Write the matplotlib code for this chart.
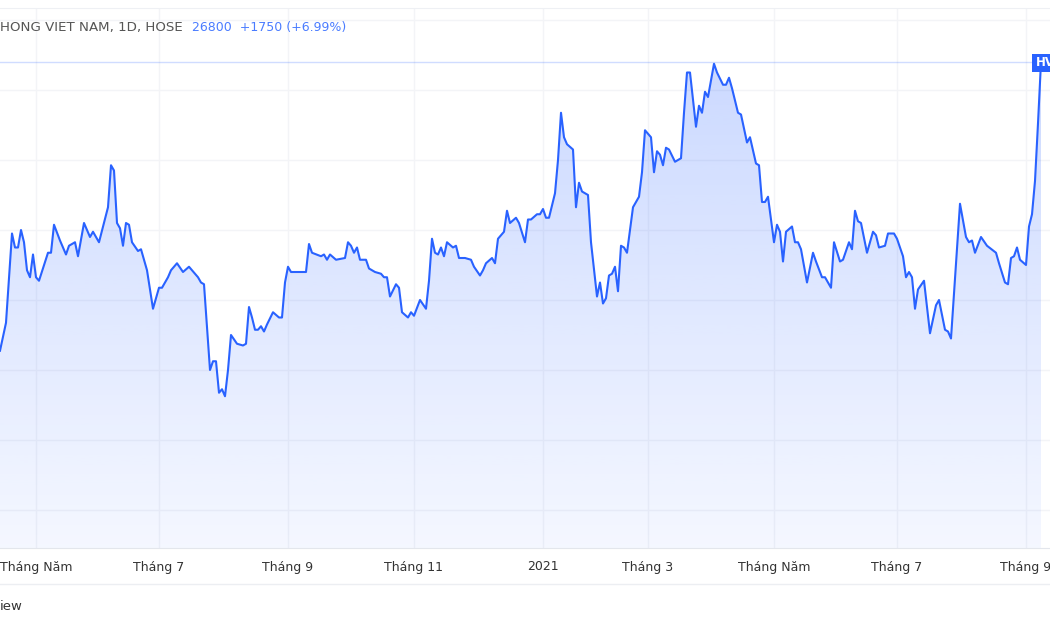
import numpy as np
import matplotlib
matplotlib.use('Agg')
import matplotlib.pyplot as plt
from matplotlib.patches import Rectangle

# HVN daily close (x = trading-session index)
sessions = [
    0, 2, 4, 5, 6, 7, 8, 9, 10, 11, 12, 13, 16, 17, 18, 20, 22, 23, 25, 26,
    28, 30, 31, 33, 36, 37, 38, 39, 40, 41, 42, 43, 44, 46, 47, 49, 51, 53, 54, 55,
    56, 57, 59, 61, 63, 66, 67, 68, 70, 71, 72, 73, 74, 75, 76, 77, 79, 81, 82, 83,
    84, 85, 86, 87, 88, 89, 91, 93, 94, 95, 96, 97, 102, 103, 104, 107, 108, 109, 110, 112,
    115, 116,
    117, 118, 119, 120, 122, 123, 125, 127, 128, 129, 130, 132, 133, 134, 136, 137, 138, 140,
    142, 143, 144, 145, 146, 147, 148, 149, 151, 152, 153, 155, 157, 158, 160, 161, 162, 164,
    165, 166, 168, 169, 170, 172, 173, 175, 176, 177, 179, 180, 181, 182, 183, 185, 186, 187,
    188, 189, 191, 192, 193, 194, 196, 197, 199, 200, 201, 202, 203, 204, 205, 206, 207, 208,
    209, 211, 213, 214, 215, 217, 218, 219, 220, 221, 222, 223, 225, 227, 228, 229, 230, 232,
    233,
    234, 235, 236, 238, 239, 241, 242, 243, 244, 246, 247, 249, 250, 252, 253, 254, 255, 256,
    258, 259, 260, 261, 262, 264, 265, 266, 267, 269, 271, 272, 274, 275, 277, 278, 280, 281,
    283, 284, 285, 286, 287, 289, 291, 292, 293, 295, 296, 298, 299, 301, 302, 303, 304, 305,
    306, 308, 310, 312, 313, 315, 316, 317, 320, 322, 323, 324, 325, 327, 329, 332, 333, 335,
    336, 337, 338, 339, 340, 342, 343, 344, 345, 346, 347,
]
prices = [
    18550, 19350, 21900, 21500, 21500, 22000, 21650, 20850, 20650, 21300,
    20650, 20550, 21350, 21350, 22150, 21700, 21300, 21550, 21650, 21250,
    22200, 21800, 21950, 21650, 22650, 23850, 23700, 22200, 22050, 21550,
    22200, 22150, 21650, 21400, 21450, 20850, 19750, 20350, 20350, 20500,
    20650, 20850, 21050, 20800, 20950, 20650, 20500, 20450, 18000, 18250,
    18250, 17350, 17450, 17250, 18000, 19000, 18750, 18700, 18750, 19800,
    19500, 19150, 19150, 19250, 19100, 19300, 19650, 19500, 19500, 20500,
    20950, 20800, 20800, 21600, 21350, 21250, 21300, 21150, 21300, 21150,
    21200, 21650,
    21550, 21350, 21500, 21150, 21150, 20900, 20800, 20750, 20650, 20650,
    20100, 20450, 20350, 19650, 19500, 19650, 19550, 20000, 19750, 20550,
    21750, 21350, 21300, 21500, 21250, 21650, 21500, 21550, 21200, 21200,
    21150, 20950, 20700, 20850, 21050, 21200, 21050, 21750, 21950, 22550,
    22200, 22350, 22200, 21650, 22300, 22300, 22450, 22450, 22600, 22350,
    22350, 23050, 24000, 25350, 24650, 24450, 24300, 22650, 23350, 23100,
    23000, 21650, 20100, 20500, 19900, 20050, 20700, 20750, 20950, 20250,
    21550, 21500, 21350, 22650, 22950, 23650, 24850, 24650, 23650, 24250,
    24150, 23850, 24350, 24300, 23950, 24050, 25350, 26500, 26500, 24950,
    25550,
    25350, 25950, 25800, 26750, 26500, 26150, 26150, 26350, 26050, 25350,
    25300, 24500, 24650, 23900, 23850, 22800, 22800, 22950, 21650, 22150,
    21950, 21100, 21950, 22100, 21650, 21650, 21450, 20500, 21350, 21100,
    20650, 20650, 20350, 21650, 21100, 21150, 21650, 21450, 22550, 22250,
    22200, 21350, 21950, 21850, 21500, 21550, 21900, 21900, 21750, 21250,
    20650, 20800, 20650, 19750, 20300, 20550, 19050, 19850, 20000, 19150,
    19100, 18900, 22750, 21800, 21650, 21700, 21350, 21800, 21550, 21350,
    21050, 20500, 20450, 21200, 21250, 21500, 21150, 21000, 22100, 22450,
    23400, 25050, 26800,
]

tick_sessions = [12, 53, 96, 138, 181, 216, 258, 299, 342]
tick_labels = ['Tháng Năm', 'Tháng 7', 'Tháng 9', 'Tháng 11', '2021',
               'Tháng 3', 'Tháng Năm', 'Tháng 7', 'Tháng 9']
price_grid = list(range(14000, 28001, 2000))

LINE = '#2962ff'
W, H = 1050, 630

fig = plt.figure(figsize=(10.5, 6.3), dpi=100)
fig.patch.set_facecolor('white')
# pane from y=8px to y=548px
ax = fig.add_axes([0, (H - 548) / H, 1, (548 - 8) / H])
ax.set_xlim(0, 350)
ax.set_ylim(12914, 28343)

ax.set_yticks(price_grid)
ax.set_xticks(tick_sessions)
ax.set_xticklabels(tick_labels)
ax.grid(True, color='#f3f4f7', lw=1)
ax.set_axisbelow(True)
ax.tick_params(axis='y', left=False, labelleft=False)
ax.tick_params(axis='x', length=0, pad=9, labelsize=9, labelcolor='#333333')
for s in ['left', 'right']:
    ax.spines[s].set_visible(False)
ax.spines['top'].set_color('#eef0f4')
ax.spines['bottom'].set_color('#e3e6ec')

# gradient area under line
ymin = ax.get_ylim()[0]
poly = ax.fill_between(sessions, prices, ymin, facecolor='none', edgecolor='none')
alpha = np.linspace(0.05, 0.24, 256)[:, None]
grad = np.zeros((256, 1, 4))
grad[..., 0], grad[..., 1], grad[..., 2] = 41 / 255, 98 / 255, 1.0
grad[..., 3] = alpha
im = ax.imshow(grad, extent=[sessions[0], sessions[-1], ymin, max(prices)],
               origin='lower', aspect='auto', zorder=1)
im.set_clip_path(poly.get_paths()[0], transform=ax.transData)

ax.axhline(prices[-1], color=LINE, alpha=0.22, lw=1, zorder=1.5)
ax.plot(sessions, prices, color=LINE, lw=1.5, zorder=3, solid_joinstyle='round')

# time axis bottom border
fig.add_artist(plt.Line2D([0, 1], [(H - 584) / H] * 2, color='#eceef2', lw=1))

# header
fig.text(0, 1 - 27 / H, 'HONG VIET NAM, 1D, HOSE', fontsize=9.6, color='#555555',
         va='center', ha='left')
fig.text(192 / W, 1 - 27 / H, '26800  +1750 (+6.99%)', fontsize=9, color='#4a7cff',
         va='center', ha='left')

# last price label (cropped at right edge, as in the source screenshot)
fig.add_artist(Rectangle((1032 / W, 1 - 72 / H), 30 / W, 18 / H,
                         transform=fig.transFigure, facecolor=LINE, edgecolor='none'))
fig.text(1036 / W, 1 - 63 / H, 'HV', fontsize=8.5, color='white', fontweight='bold',
         va='center', ha='left')

fig.text(0, 1 - 607 / H, 'iew', fontsize=9.5, color='#333333', va='center', ha='left')

fig.savefig('out.png', dpi=100)
